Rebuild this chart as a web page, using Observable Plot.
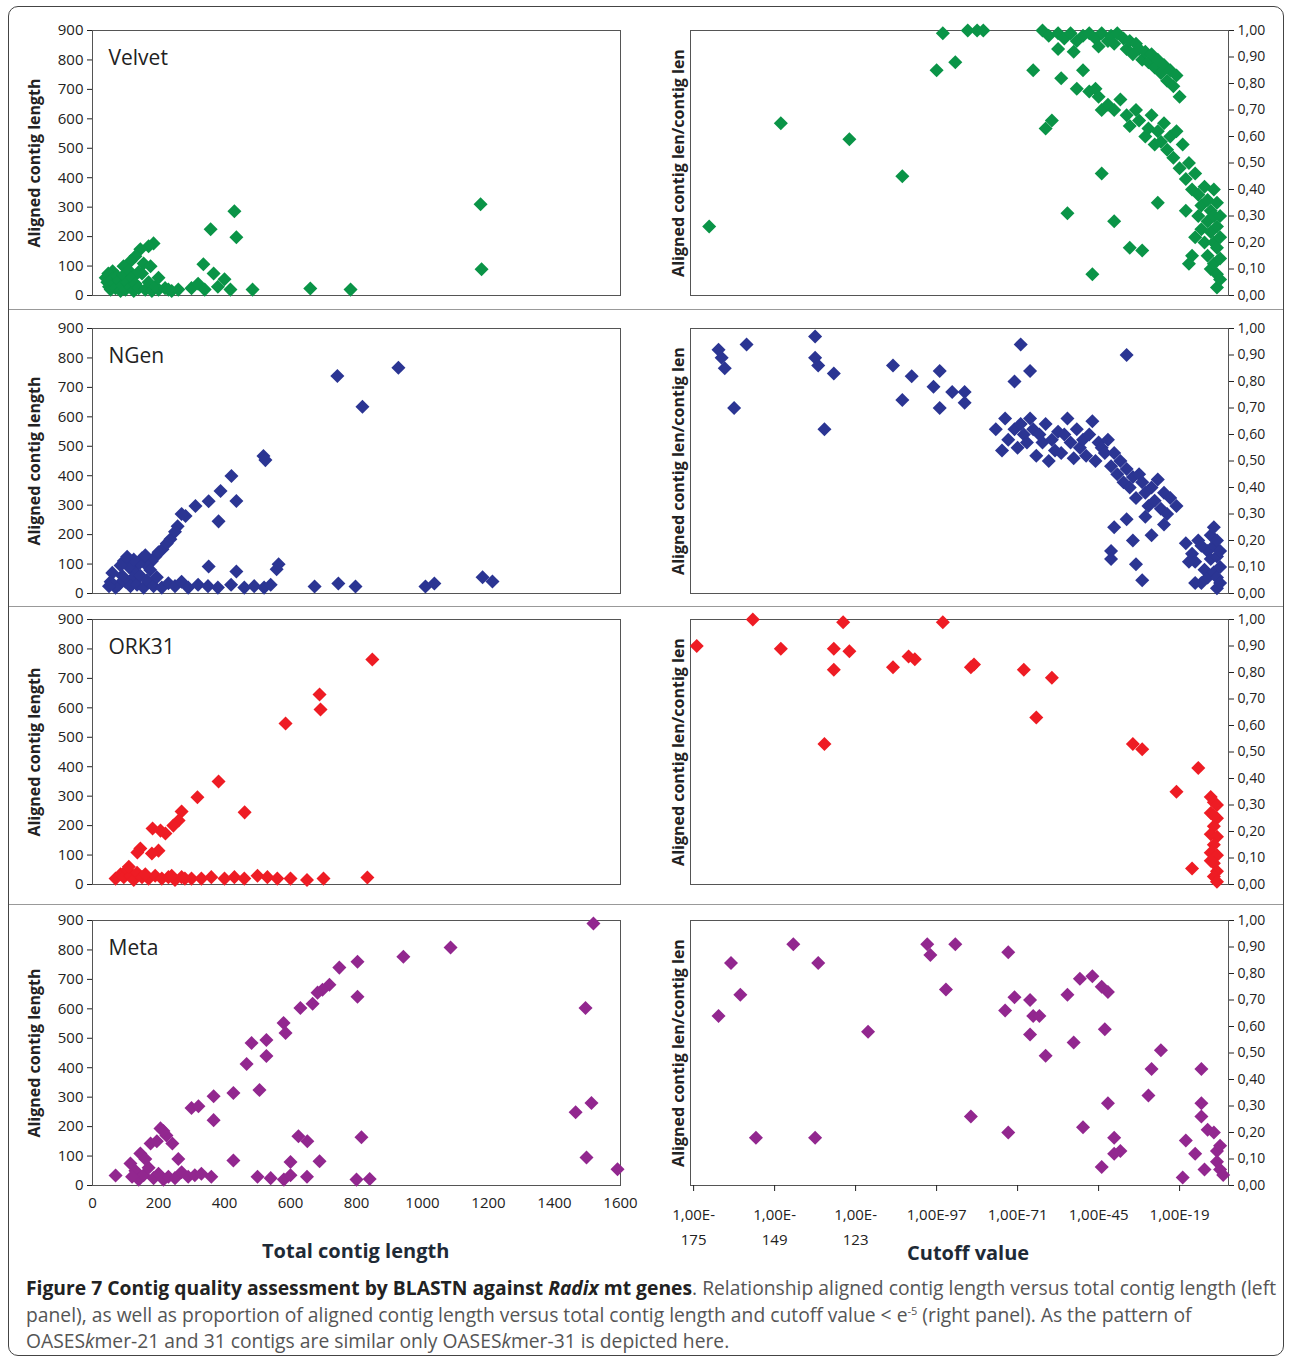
<!DOCTYPE html>
<html><head><meta charset="utf-8">
<script src="https://cdn.jsdelivr.net/npm/d3@7"></script>
<script src="https://cdn.jsdelivr.net/npm/@observablehq/plot@0.6"></script>
<style>
body{margin:0;background:#fff;font-family:"Open Sans",sans-serif;}
#fig{position:relative;width:1292px;height:1360px;}
#box{position:absolute;left:8px;top:6px;width:1276px;height:1350px;border:1.5px solid #444;border-radius:10px;box-sizing:border-box;}
.sep{position:absolute;left:9px;width:1274px;height:1px;background:#999;}
.p{position:absolute;}
.ttl{position:absolute;font-weight:bold;font-size:20px;color:#1e2a36;}
#cap{position:absolute;left:26px;top:1275px;width:1256px;font-size:19.3px;line-height:26.5px;color:#555;white-space:nowrap;}
#cap b{color:#222}
#cap sup{font-size:11px;line-height:0;}
</style></head><body>
<div id="fig"><div id="box"></div>
<div class="sep" style="top:309px"></div><div class="sep" style="top:606px"></div><div class="sep" style="top:904px"></div>
<div class="ttl" style="left:262px;top:1237px">Total contig length</div>
<div class="ttl" style="left:907px;top:1239px">Cutoff value</div>
<div id="cap"><b>Figure 7 Contig quality assessment by BLASTN against <i>Radix</i> mt genes</b>. Relationship aligned contig length versus total contig length (left<br>panel), as well as proportion of aligned contig length versus total contig length and cutoff value &lt; e<sup>-5</sup> (right panel). As the pattern of<br>OASES<i>k</i>mer-21 and 31 contigs are similar only OASES<i>k</i>mer-31 is depicted here.</div>
</div>
<script>
const names = ["Velvet", "NGen", "ORK31", "Meta"];
const colors = ["#0a9447", "#2b3593", "#ee1c24", "#92278f"];

const velvetLen = [[358,225],[430,286],[436,198],[336,106],[1176,310],[1179,89],[660,24],[782,20],[485,20],[418,20],[367,75],[185,177],[170,167],[145,157],[130,133],[115,116],[155,109],[176,99],[94,99],[61,82],[48,75],[40,60],[45,45],[50,30],[55,20],[60,55],[65,40],[70,25],[75,65],[80,50],[85,15],[90,35],[95,70],[100,20],[105,45],[110,85],[115,30],[120,60],[125,15],[130,40],[140,25],[150,75],[160,20],[170,45],[180,15],[190,30],[200,20],[220,25],[240,15],[260,20],[300,25],[320,40],[340,20],[380,30],[400,55],[200,60],[230,20],[140,80]];
const ngenLen = [[742,739],[927,767],[818,634],[518,467],[524,453],[421,399],[436,314],[388,348],[382,245],[352,313],[312,297],[282,263],[258,228],[236,184],[212,150],[191,126],[558,82],[564,99],[436,75],[352,92],[673,24],[745,34],[797,24],[1009,24],[1036,34],[1182,55],[1212,41],[270,270],[250,210],[225,170],[200,140],[180,110],[165,95],[150,120],[140,100],[130,70],[120,50],[110,90],[100,40],[90,60],[80,30],[70,20],[60,70],[55,40],[50,25],[95,110],[115,25],[125,115],[135,30],[145,60],[155,20],[165,45],[175,80],[185,25],[195,55],[210,20],[230,35],[250,25],[270,40],[290,20],[320,30],[350,25],[380,20],[420,30],[460,20],[490,25],[520,20],[540,30],[160,130],[105,125],[85,95]];
const orkLen = [[848,764],[688,645],[691,594],[585,547],[382,350],[461,245],[318,296],[270,248],[261,217],[245,200],[221,173],[206,183],[182,190],[200,115],[145,122],[136,109],[833,24],[180,105],[70,20],[85,35],[95,25],[105,50],[115,30],[125,15],[135,40],[150,25],[170,20],[190,30],[210,20],[230,25],[250,15],[270,25],[300,20],[330,20],[360,25],[400,20],[430,25],[460,20],[500,30],[530,25],[560,20],[600,20],[650,15],[700,20],[110,60],[160,35],[240,30],[280,20]];
const metaLen = [[1518,890],[1494,603],[1085,808],[942,777],[803,760],[748,740],[803,641],[718,682],[697,665],[682,655],[630,603],[667,617],[579,552],[585,518],[527,494],[482,484],[527,440],[467,413],[506,324],[427,314],[367,303],[300,263],[321,269],[367,222],[1512,280],[1464,249],[1497,95],[1591,55],[815,164],[624,167],[651,150],[688,82],[427,85],[206,194],[224,170],[242,143],[176,143],[145,109],[115,75],[70,34],[130,50],[140,20],[155,35],[170,60],[185,25],[200,40],[215,20],[230,30],[250,25],[270,45],[290,30],[310,35],[330,40],[360,30],[500,30],[540,25],[580,20],[600,35],[650,30],[800,20],[840,22],[215,185],[195,150],[160,90],[120,30],[260,90],[600,80]];

const velvetCut = [[-170,.26],[-147,.65],[-125,.59],[-108,.45],[-97,.85],[-95,.99],[-91,.88],[-87,1],[-84,1],[-82,1],[-66,.85],[-63,1],[-62,.63],[-60,.66],[-55,.31],[-47,.08],[-44,.46],[-40,.28],[-35,.18],[-31,.17],[-26,.35],[-57,.82],[-52,.78],[-48,.77],[-44,.70],
[-61,.98],[-58,.99],[-56,.97],[-54,.99],[-52,.96],[-50,.98],[-48,.99],[-46,.97],[-45,.94],[-44,.99],[-42,.96],[-41,.98],[-40,.95],[-39,.99],[-37,.97],[-36,.93],[-35,.96],[-34,.91],[-33,.95],[-32,.93],[-31,.89],[-30,.92],[-29,.88],[-28,.91],[-27,.86],[-26,.89],[-25,.84],[-24,.87],[-23,.81],[-22,.85],[-21,.79],[-20,.83],[-19,.75],
[-58,.93],[-53,.92],[-50,.85],[-46,.78],[-45,.75],[-42,.72],[-40,.70],[-38,.74],[-36,.68],[-35,.64],[-33,.70],[-32,.66],[-30,.60],[-29,.63],[-28,.68],[-27,.57],[-26,.62],[-25,.58],[-24,.65],[-23,.55],[-22,.60],[-21,.52],[-20,.62],[-19,.48],[-18,.57],[-17,.44],[-16,.50],[-15,.40],[-14,.46],
[-13,.38],[-13,.3],[-12,.34],[-12,.25],[-11,.41],[-11,.2],[-10,.36],[-10,.28],[-10,.15],[-9,.32],[-9,.24],[-9,.1],[-8,.4],[-8,.3],[-8,.2],[-8,.12],[-7,.35],[-7,.26],[-7,.18],[-7,.08],[-7,.03],[-6,.3],[-6,.22],[-6,.14],[-6,.06],[-14,.22],[-15,.15],[-16,.12],[-17,.32]];
const ngenCut = [[-167,.92],[-166,.89],[-165,.85],[-162,.70],[-158,.94],[-136,.97],[-136,.89],[-135,.86],[-133,.62],[-130,.83],[-111,.86],[-108,.73],[-105,.82],[-98,.78],[-96,.84],[-96,.70],[-92,.76],[-88,.76],[-88,.72],[-70,.94],[-72,.80],[-67,.84],[-36,.90],
[-78,.62],[-76,.54],[-75,.66],[-74,.58],[-72,.62],[-71,.55],[-70,.64],[-69,.60],[-68,.57],[-67,.66],[-66,.62],[-65,.52],[-64,.60],[-63,.57],[-62,.64],[-61,.50],[-60,.58],[-59,.54],[-58,.61],[-57,.53],[-56,.60],[-55,.66],[-54,.57],[-53,.51],[-52,.62],[-51,.55],[-50,.58],[-49,.52],[-48,.60],[-47,.65],[-46,.50],[-45,.57],[-44,.55],[-43,.53],[-42,.58],
[-41,.48],[-40,.53],[-39,.45],[-38,.50],[-37,.42],[-36,.47],[-35,.40],[-34,.44],[-33,.36],[-32,.45],[-31,.42],[-30,.38],[-29,.33],[-28,.40],[-27,.35],[-26,.43],[-25,.32],[-24,.38],[-23,.3],[-22,.36],[-20,.33],[-40,.25],[-41,.16],[-41,.13],[-36,.28],[-34,.20],[-33,.11],[-31,.05],[-30,.29],[-28,.22],[-24,.26],[-17,.19],[-15,.15],[-14,.12],[-13,.2],[-12,.04],[-11,.09],[-10,.16],[-10,.06],[-9,.22],[-9,.13],[-8,.25],[-8,.18],[-8,.08],[-7,.2],[-7,.14],[-7,.06],[-7,.02],[-6,.16],[-6,.1],[-6,.04],[-12,.18],[-14,.04],[-16,.12]];
const orkCut = [[-174,.90],[-156,1.0],[-147,.89],[-127,.99],[-130,.89],[-125,.88],[-130,.81],[-133,.53],[-111,.82],[-106,.86],[-104,.85],[-95,.99],[-85,.83],[-86,.82],[-69,.81],[-60,.78],[-65,.63],[-34,.53],[-31,.51],[-13,.44],[-20,.35],[-15,.06],
[-9,.33],[-8,.31],[-7,.30],[-9,.27],[-7,.25],[-8,.22],[-9,.19],[-7,.18],[-8,.15],[-9,.12],[-7,.11],[-8,.08],[-7,.05],[-8,.03],[-7,.01],[-9,.09],[-8,.26]];
const metaCut = [[-167,.64],[-163,.84],[-160,.72],[-155,.18],[-143,.91],[-135,.84],[-136,.18],[-119,.58],[-100,.91],[-99,.87],[-91,.91],[-94,.74],[-86,.26],[-74,.88],[-74,.20],[-75,.66],[-72,.71],[-67,.70],[-66,.64],[-67,.57],[-64,.64],[-62,.49],[-55,.72],[-53,.54],[-51,.78],[-47,.79],[-44,.75],[-42,.73],[-43,.59],[-50,.22],[-42,.31],[-40,.18],[-38,.13],[-40,.12],[-44,.07],[-28,.44],[-25,.51],[-29,.34],[-12,.44],[-12,.31],[-12,.26],[-10,.21],[-8,.20],[-17,.17],[-18,.03],[-14,.12],[-11,.06],[-7,.13],[-6,.15],[-7,.09],[-6,.06],[-5,.04]];

const lenData = [velvetLen, ngenLen, orkLen, metaLen];
const cutData = [velvetCut, ngenCut, orkCut, metaCut];
const lenTicks = d3.range(0, 1601, 200);
const cutTicks = [-175, -149, -123, -97, -71, -45, -19];
const yLenTicks = d3.range(0, 901, 100);
const yCutTicks = d3.range(0, 1.001, 0.1);
const tops = [30, 328, 619, 920];

const fig = document.getElementById("fig");
const comma = d => d3.format(".2f")(d).replace(".", ",");

function place(svg, left, top) {
  const d = document.createElement("div");
  d.className = "p"; d.style.left = left + "px"; d.style.top = top + "px";
  d.append(svg); fig.append(d);
}

names.forEach((name, i) => {
  const last = i === 3;
  const mb = last ? 60 : 8;
  const style = {fontFamily: "Open Sans", fontSize: "15px", color: "#222", overflow: "visible"};
  // left panel
  const left = Plot.plot({
    width: 640, height: 20 + 265 + mb,
    marginLeft: 92, marginRight: 20, marginTop: 20, marginBottom: mb,
    style,
    x: {domain: [0, 1600], axis: null},
    y: {domain: [0, 900], axis: null},
    marks: [
      Plot.frame({stroke: "#555"}),
      Plot.axisY({ticks: yLenTicks, label: null, tickSize: 5, fontSize: 15}),
      last ? Plot.axisX({ticks: lenTicks, tickFormat: d3.format("d"), label: null, tickSize: 0, tickPadding: 12, fontSize: 15}) : null,
      Plot.text(["Aligned contig length"], {frameAnchor: "left", rotate: -90, dx: -58, textAnchor: "middle", fontWeight: "bold", fontSize: 16}),
      Plot.text([name], {frameAnchor: "top-left", dx: 16, dy: 20, fontSize: 21, textAnchor: "start"}),
      Plot.dot(lenData[i], {x: d => d[0], y: d => d[1], symbol: "square", rotate: 45, r: 5.6, fill: colors[i], stroke: null})
    ]
  });
  place(left, 0, tops[i] - 20);
  // right panel
  const right = Plot.plot({
    width: 652, height: 20 + 265 + mb,
    marginLeft: 50, marginRight: 64, marginTop: 20, marginBottom: mb,
    style,
    x: {domain: [-176, -3.3], axis: null},
    y: {domain: [0, 1], axis: null},
    marks: [
      Plot.frame({stroke: "#555"}),
      Plot.axisY({anchor: "right", ticks: yCutTicks, tickFormat: comma, label: null, tickSize: 5, fontSize: 14}),
      last ? Plot.axisX({ticks: cutTicks, tickFormat: d => d > -100 ? "1,00E" + d : "1,00E-\n" + (-d), label: null, tickSize: 6, tickPadding: 10, fontSize: 15, lineHeight: 1.7}) : null,
      Plot.text(["Aligned contig len/contig len"], {frameAnchor: "left", rotate: -90, dx: -12, textAnchor: "middle", fontWeight: "bold", fontSize: 16}),
      Plot.dot(cutData[i], {x: d => d[0], y: d => d[1], symbol: "square", rotate: 45, r: 5.6, fill: colors[i], stroke: null})
    ]
  });
  place(right, 640, tops[i] - 20);
});
</script>
</body></html>
